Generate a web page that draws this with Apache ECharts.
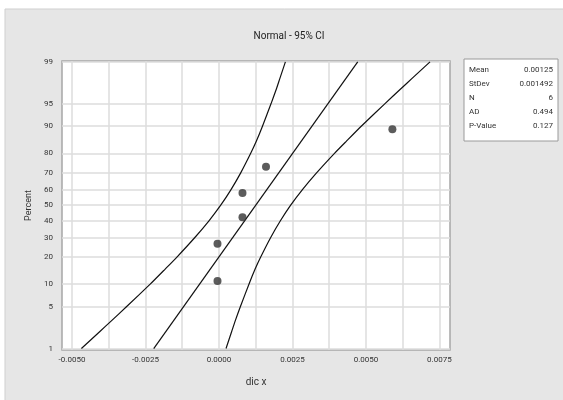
<!DOCTYPE html>
<html>
<head>
<meta charset="utf-8">
<script src="https://cdn.jsdelivr.net/npm/echarts@6/dist/echarts.min.js"></script>
<style>
  html, body { margin: 0; padding: 0; background: #fff; }
  #chart { width: 563px; height: 400px; }
</style>
</head>
<body>
<div id="chart"></div>
<script>
// percent tick labels on the probability axis
const pctTicks = [1, 5, 10, 20, 30, 40, 50, 60, 70, 80, 90, 95, 99];
// x labels and vertical grid positions
const xTickLabels = [-0.005, -0.0025, 0, 0.0025, 0.005, 0.0075];
const xGridValues = [-0.005, -0.00375, -0.0025, -0.00125, 0, 0.00125, 0.0025, 0.00375, 0.005, 0.00625, 0.0075];

// data points (x, percent)
const pointX = [-0.00005, -0.00005, 0.0008, 0.0008, 0.0016, 0.0059];
const pointPct = [10.9, 26.6, 42.2, 57.8, 73.4, 89.1];

// fitted line
const fitPct = [1, 99];
const fitX = [-0.00222, 0.00472];

// 95% CI curves, read at these percents
const curvePct = [1, 2, 3, 5, 10, 15, 20, 30, 40, 50, 60, 70, 80, 85, 90, 95, 97, 98, 99];
const lowerX = [-0.00468, -0.00406, -0.00367, -0.00314, -0.00234, -0.00183, -0.00143, -0.00082, -0.00034, 0.00006,
  0.00041, 0.00074, 0.00108, 0.00127, 0.00148, 0.00177, 0.00195, 0.00207, 0.00226];
const upperX = [0.00024, 0.00043, 0.00055, 0.00073, 0.00102, 0.00123, 0.00142, 0.00176, 0.00209, 0.00244,
  0.00284, 0.00332, 0.00393, 0.00433, 0.00484, 0.00564, 0.00617, 0.00656, 0.00718];

// stats box
const statNames = ["Mean", "StDev", "N", "AD", "P-Value"];
const statValues = ["0.00125", "0.001492", "6", "0.494", "0.127"];

// inverse normal cdf (probability scale)
function probit(p) {
  const a = [-39.69683028665376, 220.9460984245205, -275.9285104469687, 138.357751867269, -30.66479806614716, 2.506628277459239];
  const b = [-54.47609879822406, 161.5858368580409, -155.6989798598866, 66.80131188771972, -13.28068155288572];
  const c = [-0.007784894002430293, -0.3223964580411365, -2.400758277161838, -2.549732539343734, 4.374664141464968, 2.938163982698783];
  const d = [0.007784695709041462, 0.3224671290700398, 2.445134137142996, 3.754408661907416];
  const pl = 0.02425;
  let q, r;
  if (p < pl) {
    q = Math.sqrt(-2 * Math.log(p));
    return (((((c[0] * q + c[1]) * q + c[2]) * q + c[3]) * q + c[4]) * q + c[5]) / ((((d[0] * q + d[1]) * q + d[2]) * q + d[3]) * q + 1);
  }
  if (p > 1 - pl) {
    q = Math.sqrt(-2 * Math.log(1 - p));
    return -(((((c[0] * q + c[1]) * q + c[2]) * q + c[3]) * q + c[4]) * q + c[5]) / ((((d[0] * q + d[1]) * q + d[2]) * q + d[3]) * q + 1);
  }
  q = p - 0.5;
  r = q * q;
  return (((((a[0] * r + a[1]) * r + a[2]) * r + a[3]) * r + a[4]) * r + a[5]) * q / (((((b[0] * r + b[1]) * r + b[2]) * r + b[3]) * r + b[4]) * r + 1);
}
const z = (pct) => probit(pct / 100);
const zTicks = pctTicks.map(z);

const pair = (xs, ps) => xs.map((x, i) => [x, z(ps[i])]);

const FONT = "Roboto, 'Liberation Sans', sans-serif";
const LINE = { color: "#111", width: 1.2 };

// stats box texts
const statTexts = [];
statNames.forEach((n, i) => {
  const y = 66 + i * 14;
  statTexts.push({ type: "text", z: 11, style: { x: 469, y, text: n, fontSize: 8, fontFamily: FONT, fill: "#333" } });
  statTexts.push({ type: "text", z: 11, style: { x: 553, y, text: statValues[i], fontSize: 8, fontFamily: FONT, fill: "#333", align: "right" } });
});

const chart = echarts.init(document.getElementById("chart"));
chart.setOption({
  animation: false,
  backgroundColor: "#fff",
  title: {
    text: "Normal - 95% CI",
    left: 284, top: 26, textAlign: "center",
    textStyle: { fontSize: 10, fontWeight: "normal", color: "#222", fontFamily: FONT },
  },
  graphic: [
    { type: "rect", z: -10, shape: { x: 5, y: 9, width: 560, height: 395 },
      style: { fill: "#e6e6e6", stroke: "#cfcfcf", lineWidth: 1 }, silent: true },
    { type: "rect", z: 10, shape: { x: 464, y: 59, width: 94, height: 82 },
      style: { fill: "#fff", stroke: "#9a9a9a", lineWidth: 1 } },
    ...statTexts,
  ],
  grid: {
    left: 62, top: 61, width: 388, height: 289,
    show: true, backgroundColor: "#fff", borderColor: "#a6a6a6", borderWidth: 1.5,
  },
  xAxis: {
    type: "value", min: -0.00534, max: 0.00786,
    name: "dic x", nameLocation: "middle", nameGap: 27,
    nameTextStyle: { fontSize: 10, color: "#333", fontFamily: FONT },
    axisLine: { show: false },
    axisTick: { show: false, customValues: xGridValues },
    axisLabel: {
      customValues: xTickLabels, fontSize: 8, color: "#333", fontFamily: FONT, margin: 6,
      formatter: (v) => v.toFixed(4),
    },
    splitLine: { show: true, lineStyle: { color: "#dcdcdc", width: 1.5 } },
  },
  yAxis: {
    type: "value", min: -2.35, max: 2.34,
    name: "Percent", nameLocation: "middle", nameRotate: 90, nameGap: 27,
    nameTextStyle: { fontSize: 9, color: "#333", fontFamily: FONT },
    axisLine: { show: false },
    axisTick: { show: false, customValues: zTicks },
    axisLabel: {
      customValues: zTicks, fontSize: 8, color: "#333", fontFamily: FONT, margin: 9,
      formatter: (v) => {
        let best = 0;
        zTicks.forEach((t, i) => { if (Math.abs(t - v) < Math.abs(zTicks[best] - v)) best = i; });
        return String(pctTicks[best]);
      },
    },
    splitLine: { show: true, lineStyle: { color: "#dcdcdc", width: 1.5 } },
  },
  series: [
    { type: "line", data: pair(lowerX, curvePct), symbol: "none", smooth: 0.2, lineStyle: LINE },
    { type: "line", data: pair(fitX, fitPct), symbol: "none", lineStyle: LINE },
    { type: "line", data: pair(upperX, curvePct), symbol: "none", smooth: 0.2, lineStyle: LINE },
    {
      type: "scatter", data: pair(pointX, pointPct), symbol: "circle", symbolSize: 8,
      itemStyle: { color: "#333" }, z: 5,
    },
  ],
});
</script>
</body>
</html>
